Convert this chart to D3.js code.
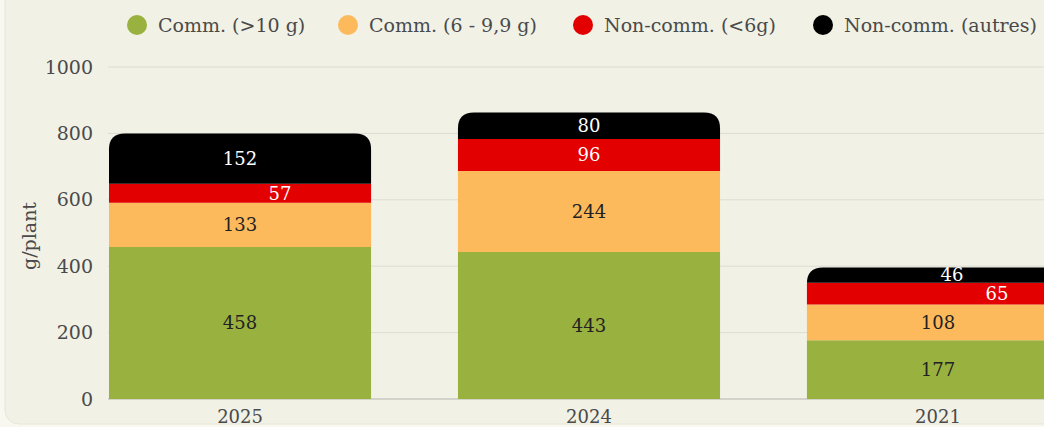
<!DOCTYPE html>
<html>
<head>
<meta charset="utf-8">
<title>g/plant</title>
<style>
  body { margin:0; background:#f8f8f1; overflow:hidden; }
  svg { display:block; font-family:"DejaVu Serif", "Liberation Serif", serif; }
</style>
</head>
<body>
<script src="https://d3js.org/d3.v7.min.js"></script>
<script>
// data
const years = ['2025', '2024', '2021'];
const seriesNames = ['Comm. (>10 g)', 'Comm. (6 - 9,9 g)', 'Non-comm. (<6g)', 'Non-comm. (autres)'];
const comm10 = [458, 443, 177];
const comm6 = [133, 244, 108];
const noncomm6 = [57, 96, 65];
const noncommAutres = [152, 80, 46];
const yTicks = [0, 200, 400, 600, 800, 1000];

const colors = ['#99b13f', '#fdba5c', '#e30000', '#000000'];
const labelColors = ['#222', '#222', '#fff', '#fff'];
// nudges for labels on thin segments (so they don't collide)
const labelDx = {'2025-2': 40, '2021-2': 59, '2021-3': 14};

const w = 1044, h = 427;
const margin = {top:67, left:109, bottom:28};

const svg = d3.select('body').append('svg').attr('width', w).attr('height', h);

// card background
svg.append('rect')
  .attr('x', 5).attr('y', -20).attr('width', w + 20).attr('height', h + 17)
  .attr('rx', 14)
  .attr('fill', '#f1f1e6')
  .attr('stroke', '#e6e6dc');

const y = d3.scaleLinear().domain([0, 1000]).range([h - margin.bottom, margin.top]);
const x = d3.scaleBand().domain(years).range([margin.left, 1069]).paddingInner(0.249).paddingOuter(0);

// grid
svg.append('g').selectAll('line').data(yTicks).join('line')
  .attr('x1', margin.left - 1).attr('x2', w)
  .attr('y1', d => y(d)).attr('y2', d => y(d))
  .attr('stroke', d => d === 0 ? '#c9c9c0' : '#dcdcd3')
  .attr('stroke-width', d => d === 0 ? 1.5 : 1);

// y tick labels
svg.append('g').selectAll('text').data(yTicks).join('text')
  .attr('x', 93).attr('y', d => y(d))
  .attr('dy', '0.35em')
  .attr('text-anchor', 'end')
  .attr('font-size', 19)
  .attr('fill', '#4a4a4a')
  .text(d => d);

svg.append('text')
  .attr('transform', `translate(36,${(y(0) + y(1000)) / 2 + 3}) rotate(-90)`)
  .attr('text-anchor', 'middle')
  .attr('font-size', 19)
  .attr('fill', '#4a4a4a')
  .text('g/plant');

// stack
const rows = years.map((yr, i) => ({year: yr, s0: comm10[i], s1: comm6[i], s2: noncomm6[i], s3: noncommAutres[i]}));
const stack = d3.stack().keys(['s0', 's1', 's2', 's3'])(rows);

const r = 16;
function segPath(d, top) {
  const x0 = x(d.data.year), x1 = x0 + x.bandwidth();
  const yb = y(d[0]), yt = y(d[1]);
  if (!top) return `M${x0},${yb}H${x1}V${yt}H${x0}Z`;
  return `M${x0},${yb}H${x1}V${yt + r}Q${x1},${yt} ${x1 - r},${yt}H${x0 + r}Q${x0},${yt} ${x0},${yt + r}Z`;
}

stack.forEach((layer, li) => {
  svg.append('g').selectAll('path').data(layer).join('path')
    .attr('d', d => segPath(d, li === stack.length - 1))
    .attr('fill', colors[li]);
});

stack.forEach((layer, li) => {
  svg.append('g').selectAll('text').data(layer).join('text')
    .attr('x', d => x(d.data.year) + x.bandwidth() / 2 + (labelDx[d.data.year + '-' + li] || 0))
    .attr('y', d => (y(d[0]) + y(d[1])) / 2)
    .attr('dy', '0.35em')
    .attr('text-anchor', 'middle')
    .attr('font-size', 18)
    .attr('fill', labelColors[li])
    .text(d => d[1] - d[0]);
});

// x labels
svg.append('g').selectAll('text').data(years).join('text')
  .attr('x', d => x(d) + x.bandwidth() / 2)
  .attr('y', h - 4)
  .attr('text-anchor', 'middle')
  .attr('font-size', 18)
  .attr('fill', '#4a4a4a')
  .text(d => d);

// legend
const legendX = [137, 348, 583, 823];
const lg = svg.append('g').selectAll('g').data(seriesNames).join('g')
  .attr('transform', (d, i) => `translate(${legendX[i]},25)`);
lg.append('circle').attr('r', 10).attr('fill', (d, i) => colors[i]);
lg.append('text')
  .attr('x', 21).attr('dy', '0.35em')
  .attr('font-size', 19)
  .attr('fill', '#4a4a4a')
  .text(d => d);
</script>
</body>
</html>
